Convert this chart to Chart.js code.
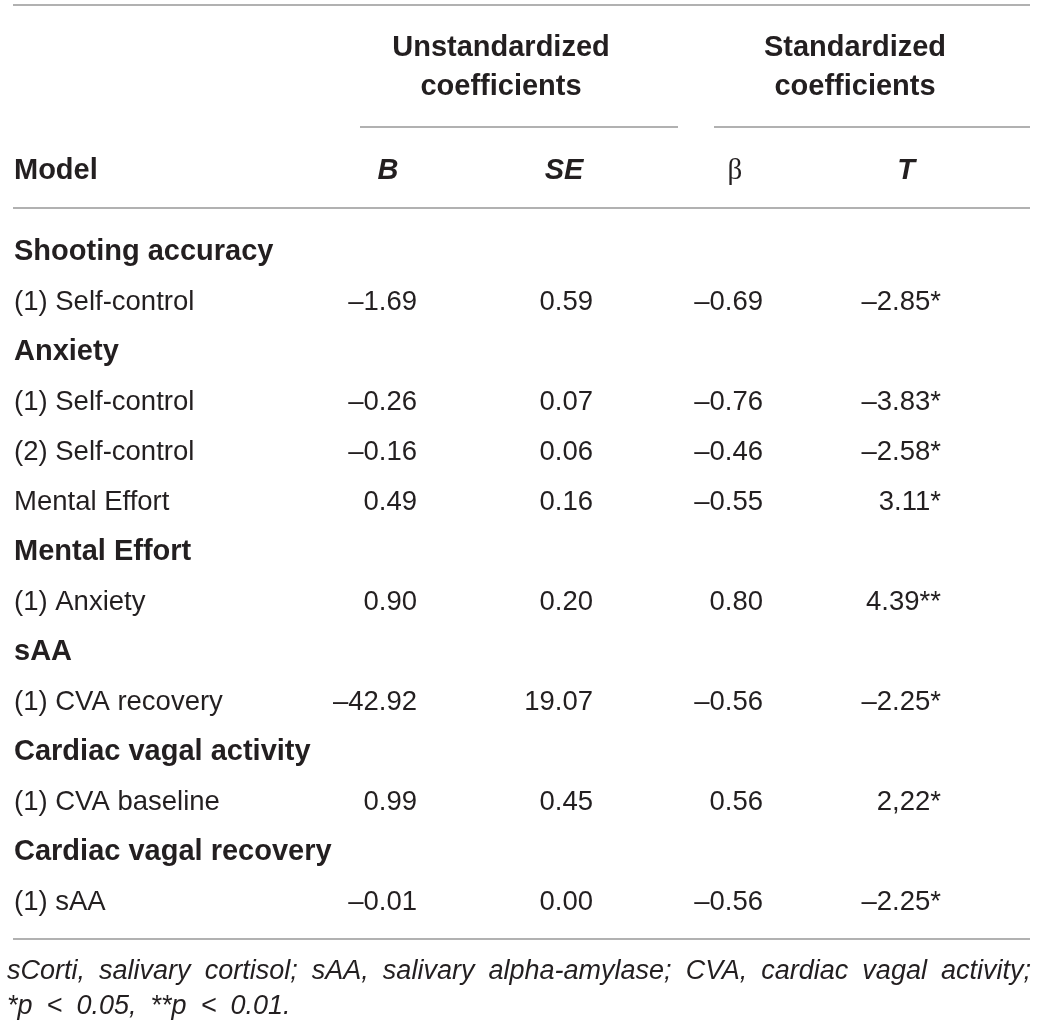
<!DOCTYPE html>
<html>
<head>
<meta charset="utf-8">
<title>Regression coefficients</title>
<script src="https://cdn.jsdelivr.net/npm/chart.js@4.4.1/dist/chart.umd.min.js"></script>
<style>
  html, body { margin: 0; padding: 0; background: #fff; }
  #wrap { width: 1037px; height: 1028px; }
</style>
</head>
<body>
<div id="wrap"><canvas id="coefTable"></canvas></div>
<script>
// Table rows, top to bottom
const rowLabels = [
  'Shooting accuracy', '(1) Self-control',
  'Anxiety', '(1) Self-control', '(2) Self-control', 'Mental Effort',
  'Mental Effort', '(1) Anxiety',
  'sAA', '(1) CVA recovery',
  'Cardiac vagal activity', '(1) CVA baseline',
  'Cardiac vagal recovery', '(1) sAA'
];
// outcome headings are printed bold
const headingRows = [true, false, true, false, false, false, true, false, true, false, true, false, true, false];

// cell values as printed (null = empty cell)
const bValues    = [null, '–1.69', null, '–0.26', '–0.16', '0.49', null, '0.90', null, '–42.92', null, '0.99', null, '–0.01'];
const seValues   = [null, '0.59',  null, '0.07',  '0.06',  '0.16', null, '0.20', null, '19.07',  null, '0.45', null, '0.00'];
const betaValues = [null, '–0.69', null, '–0.76', '–0.46', '–0.55', null, '0.80', null, '–0.56', null, '0.56', null, '–0.56'];
const tValues    = [null, '–2.85*', null, '–3.83*', '–2.58*', '3.11*', null, '4.39**', null, '–2.25*', null, '2,22*', null, '–2.25*'];

const columnHeads = ['B', 'SE', 'β', 'T'];
const groupHeads = [['Unstandardized', 'coefficients'], ['Standardized', 'coefficients']];
const footnoteLines = [
  'sCorti, salivary cortisol; sAA, salivary alpha-amylase; CVA, cardiac vagal activity;',
  '*p < 0.05, **p < 0.01.'
];

// layout (x in axis units, the x axis spans the page width)
const layout = {
  left: 14,
  right: 1030,
  colAnchor: [417, 593, 763, 941],
  headCenter: [388, 564, 735, 906],
  groupCenter: [501, 855],
  groupRule: [[360, 678], [714, 1030]]
};

const FONT = "'Liberation Sans', Arial, sans-serif";
const BOLD = 'bold 29px ' + FONT;
const PLAIN = '27.5px ' + FONT;
const INK = '#231f20';
const RULE = '#979797';

function cellData(values, col) {
  const out = [];
  values.forEach(function (v, i) {
    if (v !== null) out.push({ x: layout.colAnchor[col], y: i, text: v });
  });
  return out;
}

const labelData = rowLabels.map(function (l, i) {
  return { x: layout.left, y: i, text: l, bold: headingRows[i] };
});

const datasets = [
  { label: 'Model', data: labelData, align: 'left' },
  { label: 'B', data: cellData(bValues, 0), align: 'right' },
  { label: 'SE', data: cellData(seValues, 1), align: 'right' },
  { label: 'beta', data: cellData(betaValues, 2), align: 'right' },
  { label: 'T', data: cellData(tValues, 3), align: 'right' }
].map(function (d) {
  d.pointRadius = 0;
  d.pointHoverRadius = 0;
  return d;
});

function drawJustified(ctx, text, x1, x2, y, gap) {
  const words = text.split(' ');
  const widths = words.map(function (w) { return ctx.measureText(w).width; });
  const total = widths.reduce(function (a, b) { return a + b; }, 0);
  if (gap === undefined) gap = (x2 - x1 - total) / (words.length - 1);
  let cx = x1;
  words.forEach(function (w, i) {
    ctx.fillText(w, cx, y);
    cx += widths[i] + gap;
  });
  return gap;
}

// draws the rules, the header block, every cell and the footnote
const tablePlugin = {
  id: 'tableText',
  afterDatasetsDraw(chart) {
    const ctx = chart.ctx;
    const xs = chart.scales.x;
    const area = chart.chartArea;
    const px = function (v) { return xs.getPixelForValue(v); };

    ctx.save();
    ctx.strokeStyle = RULE;
    ctx.lineWidth = 1.5;
    function rule(a, b, y) {
      ctx.beginPath();
      ctx.moveTo(px(a), y);
      ctx.lineTo(px(b), y);
      ctx.stroke();
    }
    rule(layout.left - 1, layout.right, 5);
    layout.groupRule.forEach(function (r) { rule(r[0], r[1], 127); });
    rule(layout.left - 1, layout.right, area.top - 17);
    rule(layout.left - 1, layout.right, area.bottom + 14);

    ctx.fillStyle = INK;
    ctx.textBaseline = 'alphabetic';

    // group headings
    ctx.font = BOLD;
    ctx.textAlign = 'center';
    groupHeads.forEach(function (g, i) {
      ctx.fillText(g[0], px(layout.groupCenter[i]), 46 + 10);
      ctx.fillText(g[1], px(layout.groupCenter[i]), 85 + 10);
    });

    // column headings
    ctx.textAlign = 'left';
    ctx.fillText('Model', px(layout.left), 169 + 10);
    ctx.textAlign = 'center';
    columnHeads.forEach(function (h, i) {
      if (h === 'β') {
        ctx.font = "29px 'Liberation Serif', 'Times New Roman', serif";
      } else {
        ctx.font = 'italic ' + BOLD;
      }
      ctx.fillText(h, px(layout.headCenter[i]), 169 + 10);
    });

    // cells
    chart.data.datasets.forEach(function (ds, di) {
      const meta = chart.getDatasetMeta(di);
      ctx.textAlign = ds.align;
      meta.data.forEach(function (pt, j) {
        const cell = ds.data[j];
        ctx.font = cell.bold ? BOLD : PLAIN;
        ctx.fillText(cell.text, pt.x, pt.y + 10);
      });
    });

    // footnote
    ctx.font = 'italic 27px ' + FONT;
    ctx.textAlign = 'left';
    const gap = drawJustified(ctx, footnoteLines[0], px(7), px(1031), area.bottom + 54);
    drawJustified(ctx, footnoteLines[1], px(7), px(1031), area.bottom + 89, gap);

    ctx.restore();
  }
};

const ctx = document.getElementById('coefTable').getContext('2d');

const coefTable = new Chart(ctx, {
  type: 'scatter',
  data: { datasets: datasets },
  options: {
    responsive: true,
    maintainAspectRatio: false,
    animation: false,
    events: [],
    layout: { padding: { top: 225, bottom: 103, left: 0, right: 0 } },
    plugins: {
      legend: { display: false },
      tooltip: { enabled: false }
    },
    scales: {
      x: { type: 'linear', min: 0, max: 1037, display: false },
      y: { type: 'linear', min: -0.5, max: rowLabels.length - 0.5, reverse: true, display: false }
    }
  },
  plugins: [tablePlugin]
});
</script>
</body>
</html>
